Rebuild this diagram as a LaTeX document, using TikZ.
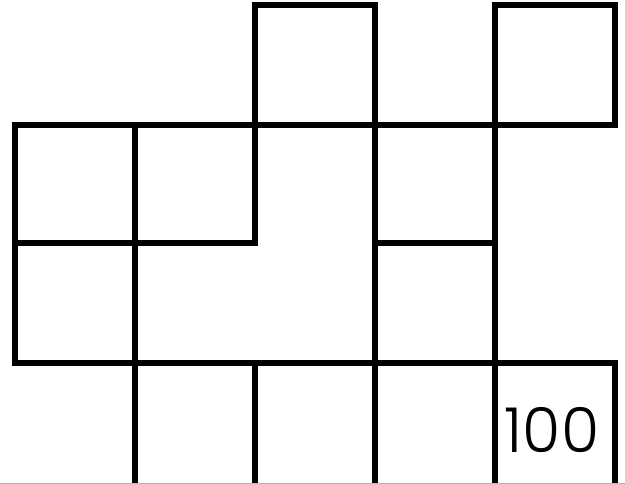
\documentclass[tikz,border=0pt]{standalone}
\usepackage{fontspec}
\newfontfamily\digitfont{Poppins Light}
\usetikzlibrary{positioning}
\definecolor{edgered}{HTML}{D9A3A3}

\tikzset{
  wall/.style={line width=5.3pt,line join=miter,line cap=rect},
  numlabel/.style={font=\digitfont\fontsize{62}{62}\selectfont,inner sep=0pt,anchor=base}
}

\begin{document}
\begin{tikzpicture}[x=1pt,y=-1pt]
        \useasboundingbox (0,0) rectangle (625,484);
        % top boxes
        \draw[wall] (255,125)--(255,5)--(375,5)--(375,125);
        \draw[wall] (495,125)--(495,5)--(615,5)--(615,125);
        % outer frame of the middle rows
        \draw[wall] (615,484)--(615,363)--(15,363)--(15,125)--(615,125);
        % inner lines
        \draw[wall] (15,243)--(255,243)--(255,125);
        \draw[wall] (375,243)--(495,243);
        \draw[wall] (135,125)--(135,484);
        \draw[wall] (255,363)--(255,484);
        \draw[wall] (375,125)--(375,484);
        \draw[wall] (495,125)--(495,484);
        \draw[edgered,line width=1pt] (0,483.5)--(625,483.5);
        \node[numlabel] (hundred) at (552,452) {100};
      \end{tikzpicture}
\end{document}
